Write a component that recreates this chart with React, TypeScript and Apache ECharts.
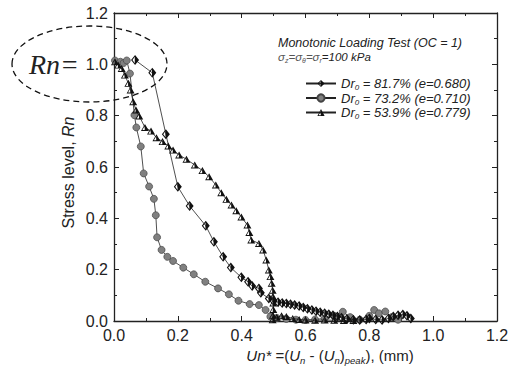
import React, { useEffect, useRef } from "react";
import * as echarts from "echarts";

const xTicks = [0, 0.2, 0.4, 0.6, 0.8, 1.0, 1.2];
const yTicks = [0, 0.2, 0.4, 0.6, 0.8, 1.0, 1.2];

const seriesNames = ["Dr0 = 81.7% (e=0.680)", "Dr0 = 73.2% (e=0.710)", "Dr0 = 53.9% (e=0.779)"];

const dr817: [number, number][] = [
  [0.066, 1.017], [0.12, 0.967], [0.1625, 0.728], [0.2, 0.523], [0.237, 0.448], [0.2875, 0.371],
  [0.313, 0.309], [0.342, 0.25], [0.366, 0.208], [0.399, 0.17], [0.42, 0.153], [0.433, 0.136],
  [0.454, 0.127], [0.46, 0.11], [0.485, 0.088], [0.5, 0.078], [0.514, 0.073], [0.527, 0.07],
  [0.54, 0.068], [0.553, 0.065], [0.566, 0.062], [0.58, 0.058], [0.593, 0.053], [0.606, 0.048],
  [0.62, 0.043], [0.633, 0.038], [0.646, 0.034], [0.66, 0.03], [0.673, 0.026], [0.686, 0.022],
  [0.7, 0.018], [0.713, 0.013], [0.73, 0.008], [0.75, 0.005], [0.77, 0.004], [0.79, 0.006],
  [0.8, 0.01], [0.82, 0.006], [0.84, 0.004], [0.86, 0.01], [0.875, 0.018], [0.89, 0.022],
  [0.905, 0.025], [0.918, 0.02], [0.93, 0.01],
];

const dr732: [number, number][] = [
  [0.003, 1.015], [0.02, 1.01], [0.03, 1.005], [0.04, 1.015], [0.05, 0.964], [0.064, 0.802],
  [0.07, 0.754], [0.084, 0.68], [0.093, 0.575], [0.11, 0.524], [0.125, 0.476], [0.131, 0.412],
  [0.135, 0.326], [0.149, 0.277], [0.167, 0.25], [0.185, 0.234], [0.217, 0.208], [0.25, 0.182],
  [0.286, 0.153], [0.326, 0.127], [0.36, 0.104], [0.39, 0.079], [0.425, 0.066], [0.454, 0.062],
  [0.475, 0.043], [0.49, 0.017], [0.51, 0.012], [0.54, 0.008], [0.57, 0.005], [0.6, 0.004],
  [0.63, 0.006], [0.66, 0.01], [0.69, 0.02], [0.717, 0.036], [0.74, 0.015], [0.77, 0.005],
  [0.8, 0.02], [0.815, 0.043], [0.83, 0.03], [0.85, 0.037], [0.87, 0.015], [0.89, 0.005],
];

const dr539: [number, number][] = [
  [0.003, 1.01], [0.013, 0.997], [0.024, 0.984], [0.034, 0.958], [0.045, 0.926], [0.052, 0.9],
  [0.06, 0.854], [0.069, 0.822], [0.079, 0.799], [0.097, 0.754], [0.116, 0.74], [0.133, 0.714],
  [0.152, 0.699], [0.17, 0.682], [0.185, 0.666], [0.204, 0.647], [0.227, 0.63], [0.253, 0.608],
  [0.277, 0.586], [0.298, 0.562], [0.319, 0.53], [0.336, 0.5], [0.352, 0.474], [0.368, 0.452],
  [0.383, 0.43], [0.399, 0.405], [0.418, 0.374], [0.424, 0.345], [0.43, 0.316], [0.454, 0.302],
  [0.467, 0.277], [0.477, 0.238], [0.485, 0.199], [0.49, 0.173], [0.494, 0.147], [0.497, 0.12],
  [0.498, 0.095], [0.499, 0.07], [0.499, 0.045], [0.498, 0.022], [0.497, 0.005], [0.51, 0.015],
  [0.525, 0.02], [0.54, 0.018], [0.56, 0.01], [0.58, 0.006], [0.6, 0.004], [0.63, 0.003],
  [0.66, 0.004], [0.69, 0.003], [0.72, 0.002], [0.75, 0.002],
];

const DIAMOND = "path://M0,-5L4,0L0,5L-4,0Z M-0.3,-3.2L-2.6,0L-0.3,3.2Z";
const TRIANGLE = "path://M0,-5L5,4L-5,4Z M-0.3,-2.6L-3.2,2.8L-0.3,2.8Z";

const FONT = "Liberation Sans";
const SERIF = "Liberation Serif";

type Piece = { t: string; size: number; italic?: boolean; dy?: number; color?: string };

let measureCtx: CanvasRenderingContext2D | null = null;
function measure(p: Piece) {
  if (!measureCtx) measureCtx = document.createElement("canvas").getContext("2d");
  if (!measureCtx) return p.t.length * p.size * 0.55;
  measureCtx.font = `${p.italic ? "italic " : ""}${p.size}px ${FONT}`;
  return measureCtx.measureText(p.t).width;
}

function piecesGroup(pieces: Piece[], x: number, y: number, align: "left" | "center", rotation = 0) {
  const widths = pieces.map(measure);
  const total = widths.reduce((a, b) => a + b, 0);
  let cur = align === "center" ? -total / 2 : 0;
  const children = pieces.map((p, i) => {
    const el = {
      type: "text",
      x: cur,
      y: p.dy || 0,
      style: {
        text: p.t,
        fontFamily: FONT,
        fontSize: p.size,
        fontStyle: p.italic ? "italic" : "normal",
        fill: p.color || "#222",
        verticalAlign: "middle",
        align: "left",
      },
    };
    cur += widths[i];
    return el;
  });
  return { type: "group", x, y, rotation, children };
}

export default function App() {
  const ref = useRef<HTMLDivElement>(null);
  useEffect(() => {
    if (!ref.current) return;
    const chart = echarts.init(ref.current, undefined, { renderer: "svg" });
    const axisCommon = {
      type: "value" as const,
      min: 0,
      max: 1.2,
      interval: 0.2,
      axisLine: { show: true, onZero: false, lineStyle: { color: "#222", width: 1.3 } },
      axisTick: { show: true, inside: true, length: 5, lineStyle: { color: "#222", width: 1 } },
      minorTick: { show: true, splitNumber: 2, length: 3, lineStyle: { color: "#222", width: 1 } },
      splitLine: { show: false },
      minorSplitLine: { show: false },
    };
    const labelStyle = { color: "#222", fontSize: 16, fontFamily: FONT };
    const line = { color: "#222", width: 0.8 };

    const xTitle: Piece[] = [
      { t: "Un*", size: 15, italic: true },
      { t: " =(", size: 15 },
      { t: "U", size: 15, italic: true },
      { t: "n", size: 9.5, italic: true, dy: 5 },
      { t: " - (", size: 15 },
      { t: "U", size: 15, italic: true },
      { t: "n", size: 9.5, italic: true, dy: 5 },
      { t: ")", size: 15 },
      { t: "peak", size: 9.5, italic: true, dy: 5 },
      { t: "), (mm)", size: 15 },
    ];
    const yTitle: Piece[] = [
      { t: "Stress level, ", size: 16 },
      { t: "Rn", size: 16, italic: true },
    ];
    const sigmaLine: Piece[] = [
      { t: "σ", size: 11.5, italic: true, color: "#555" },
      { t: "z", size: 7, italic: true, dy: 3.5, color: "#555" },
      { t: "=σ", size: 11.5, italic: true, color: "#555" },
      { t: "θ", size: 7, italic: true, dy: 3.5, color: "#555" },
      { t: "=σ", size: 11.5, italic: true, color: "#555" },
      { t: "r", size: 7, italic: true, dy: 3.5, color: "#555" },
      { t: "=100 kPa", size: 11.5, italic: true },
    ];

    chart.setOption({
      animation: false,
      backgroundColor: "#fff",
      textStyle: { fontFamily: FONT },
      grid: { left: 114, right: 15, top: 13, bottom: 58 },
      xAxis: [
        {
          ...axisCommon,
          position: "bottom",
          axisLabel: { ...labelStyle, margin: 6, formatter: (v: number) => (xTicks.includes(Math.round(v * 10) / 10) ? v.toFixed(1) : "") },
        },
        { ...axisCommon, position: "top", axisLabel: { show: false } },
      ],
      yAxis: [
        {
          ...axisCommon,
          position: "left",
          axisLabel: { ...labelStyle, margin: 6, formatter: (v: number) => (yTicks.includes(Math.round(v * 10) / 10) ? v.toFixed(1) : "") },
        },
        { ...axisCommon, position: "right", axisLabel: { show: false } },
      ],
      legend: {
        orient: "vertical",
        left: 300,
        top: 72,
        itemWidth: 30,
        itemHeight: 9,
        itemGap: 0,
        data: seriesNames,
        formatter: (name: string) => `{a|Dr}{s|0}{a|${name.slice(3)}}`,
        textStyle: {
          color: "#222",
          fontFamily: FONT,
          fontStyle: "italic",
          fontSize: 13,
          rich: {
            a: { fontSize: 13, fontStyle: "italic", fontFamily: FONT, color: "#222", lineHeight: 16 },
            s: { fontSize: 8, fontStyle: "italic", fontFamily: FONT, color: "#222", lineHeight: 6, verticalAlign: "bottom" },
          },
        },
      },
      series: [
        {
          name: seriesNames[1],
          type: "line",
          data: dr732,
          symbol: "circle",
          symbolSize: 7,
          lineStyle: line,
          itemStyle: { color: "#808080", borderColor: "#444", borderWidth: 0.7 },
          z: 2,
        },
        {
          name: seriesNames[0],
          type: "line",
          data: dr817,
          symbol: DIAMOND,
          symbolSize: [8, 10],
          lineStyle: line,
          itemStyle: { color: "#111" },
          z: 3,
        },
        {
          name: seriesNames[2],
          type: "line",
          data: dr539,
          symbol: TRIANGLE,
          symbolSize: [8, 7],
          lineStyle: line,
          itemStyle: { color: "#111" },
          z: 4,
        },
      ],
      graphic: [
        {
          type: "ellipse",
          shape: { cx: 89.5, cy: 64, rx: 77.5, ry: 38 },
          style: { fill: "none", stroke: "#111", lineWidth: 1.3, lineDash: [6, 4] },
          z: 10,
        },
        {
          type: "text",
          x: 29,
          y: 64,
          style: {
            text: "Rn=",
            fontFamily: SERIF,
            fontStyle: "italic",
            fontSize: 28,
            fill: "#222",
            verticalAlign: "middle",
            align: "left",
          },
        },
        {
          type: "text",
          x: 278,
          y: 43,
          style: {
            text: "Monotonic Loading Test (OC = 1)",
            fontFamily: FONT,
            fontStyle: "italic",
            fontSize: 12.5,
            fill: "#222",
            verticalAlign: "middle",
          },
        },
        piecesGroup(sigmaLine, 278, 57, "left"),
        piecesGroup(yTitle, 68, 172.5, "center", Math.PI / 2),
        piecesGroup(xTitle, 330, 355, "center"),
      ],
    });
    return () => chart.dispose();
  }, []);
  return <div ref={ref} style={{ width: 512, height: 379, position: "absolute", left: 0, top: 0 }} />;
}
